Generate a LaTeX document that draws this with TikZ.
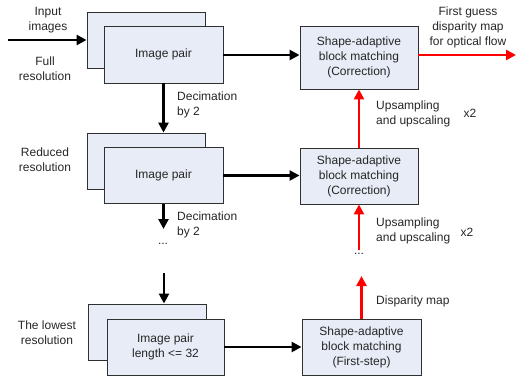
\documentclass[tikz,border=0pt]{standalone}
\usepackage{fontspec}
\setmainfont{Liberation Sans}
\usetikzlibrary{arrows.meta}
\definecolor{boxfill}{HTML}{E7ECF7}
\definecolor{boxline}{HTML}{303030}
\tikzset{
  every node/.style={font=\fontsize{12}{15}\selectfont, text=black!85, inner sep=0pt},
  pair/.style={draw=boxline, line width=0.9pt, fill=boxfill, minimum width=118pt, minimum height=56pt, align=center},
  sabox/.style={draw=boxline, line width=0.9pt, fill=boxfill, minimum width=118pt, align=center},
  lbl/.style={align=center},
  lbll/.style={align=left, anchor=west},
  flow/.style={line width=2.8pt, -{Triangle[length=10pt, width=10pt]}},
  redflow/.style={flow, draw=red},
}
\begin{document}
\begin{tikzpicture}[x=1pt, y=-1pt]
\useasboundingbox (0,0) rectangle (517,378);

% full resolution stack
\node[pair] (b1) at (146,40) {};
\node[pair, minimum width=119pt, minimum height=57pt] (f1) at (163.5,54.5) {Image pair};
% reduced resolution stack
\node[pair] (b2) at (146,161) {};
\node[pair, minimum width=119pt] (f2) at (163.5,175.5) {Image pair};
% lowest resolution stack
\node[pair] (b3) at (147.5,332) {};
\node[pair, minimum width=117pt] (f3) at (165.5,347) {Image pair\\length <= 32};

% matching blocks
\node[sabox, minimum height=63pt] (s1) at (359,57.5) {Shape-adaptive\\block matching\\(Correction)};
\node[sabox, minimum height=56pt] (s2) at (359,176) {Shape-adaptive\\block matching\\(Correction)};
\node[sabox, minimum width=119pt, minimum height=56pt] (s3) at (361.5,347) {Shape-adaptive\\block matching\\(First-step)};

% side labels
\node[lbl] (tin) at (48,20) {Input\\images};
\node[lbl] (tfull) at (45,69) {Full\\resolution};
\node[lbl] (tred) at (45,160) {Reduced\\resolution};
\node[lbl] (tlow) at (47,333) {The lowest\\resolution};
\node[lbll] (tdec1) at (177,105) {Decimation\\by 2};
\node[lbll] (tdec2) at (177,225) {Decimation\\by 2};
\node[lbl] (dotl) at (163,244) {...};
\node[lbl] (tout) at (468,27) {First guess\\disparity map\\for optical flow};
\node[lbll] (tup1) at (376,114) {Upsampling\\and upscaling};
\node[lbl] (tx1) at (470,113) {x2};
\node[lbll] (tup2) at (376,231) {Upsampling\\and upscaling};
\node[lbl] (tx2) at (467,232) {x2};
\node[lbl] (dotr) at (359,254) {...};
\node[lbll] (tdisp) at (376,301) {Disparity map};

% free ends
\coordinate (in) at (8,40);
\coordinate (out) at (516,55);
\coordinate (dec2end) at (163.5,229);
\coordinate (dec3start) at (164,273);
\coordinate (up2start) at (359,250);
\coordinate (disp) at (361.5,276);

% black flow: input, decimation, matching
\draw[flow] (in) -- (b1.west);
\draw[flow] (f1.south) -- (f1.south |- b2.north);
\draw[flow] (f2.south) -- (dec2end);
\draw[flow] (dec3start) -- (dec3start |- b3.north);
\draw[flow] (f1.east |- 0,55) -- (s1.west |- 0,55);
\draw[flow] (f2.east) -- (f2.east -| s2.west);
\draw[flow] (f3.east) -- (f3.east -| s3.west);

% red flow: disparity upward
\draw[redflow] (s1.east |- out) -- (out);
\draw[redflow] (s2.north) -- (s1.south);
\draw[redflow] (up2start) -- (s2.south);
\draw[redflow] (s3.north) -- (disp);
\end{tikzpicture}
\end{document}
